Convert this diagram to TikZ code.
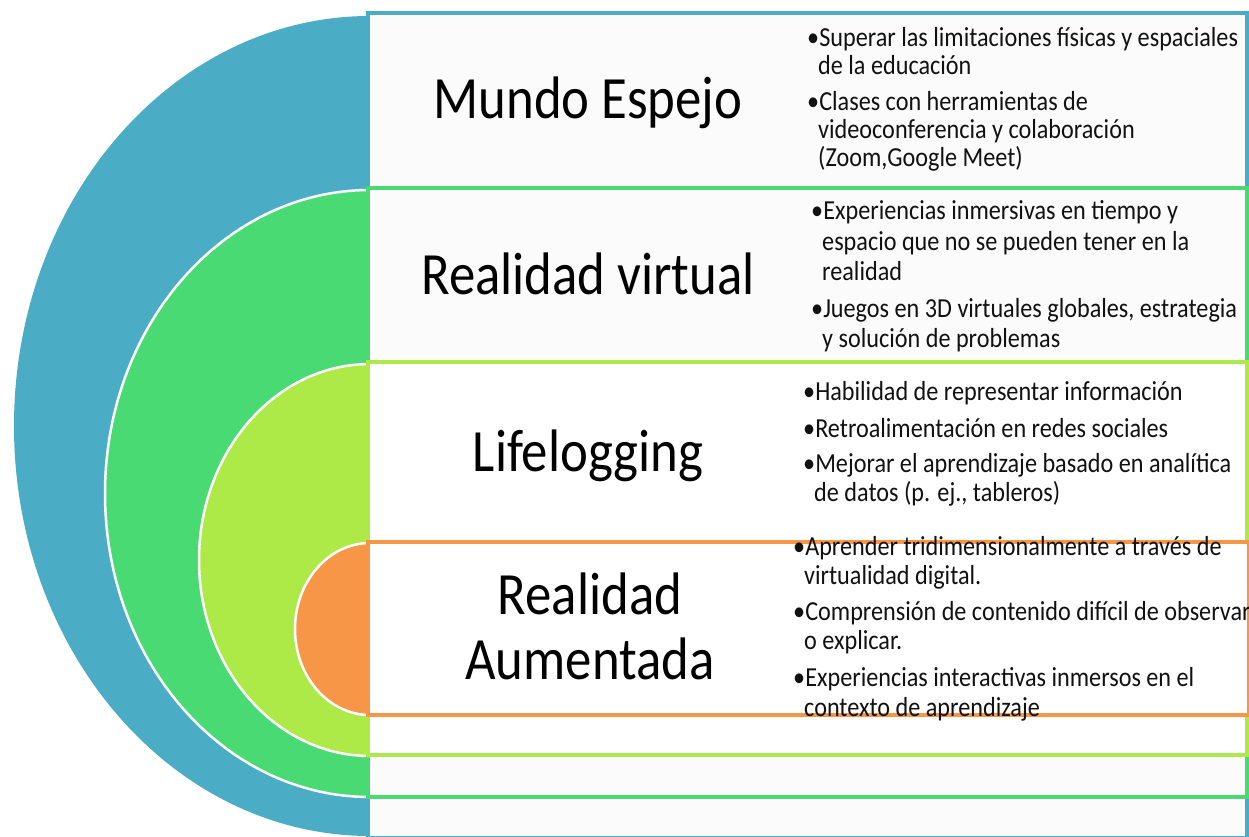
\documentclass[tikz,border=0pt]{standalone}
\usepackage{fontspec}
\setmainfont{Carlito}[FakeStretch=0.88]
\newfontfamily\calfont{Carlito}[FakeStretch=0.88]
\definecolor{cblue}{HTML}{4BACC6}
\definecolor{cgreen}{HTML}{4ADA74}
\definecolor{clgreen}{HTML}{ADEA47}
\definecolor{corange}{HTML}{F79646}
\definecolor{boxfill}{HTML}{FBFBFB}
\definecolor{txt}{HTML}{111111}
\begin{document}
\begin{tikzpicture}[x=1pt,y=-1pt,
  band/.style={line width=4pt, draw=#1, fill=boxfill},
  rim/.style={white, line width=2.5pt},
  title/.style={anchor=base, inner sep=0pt, text=black, font=\calfont\fontsize{60}{65}\selectfont},
  bl/.style={anchor=base west, inner sep=0pt, text=txt, font=\calfont\fontsize{27.5}{30}\selectfont}]
\useasboundingbox (0,0) rectangle (1249,837);
\clip (0,0) rectangle (1249,837);
\fill[white] (0,0) rectangle (1249,837);
% blue level
\fill[cblue] (370,16) arc[start angle=270,end angle=90,x radius=356,y radius=410] -- cycle;
\draw[band=cblue] (368,13) rectangle (1247,838);
% green level
\fill[cgreen] (370,190) arc[start angle=270,end angle=90,x radius=265,y radius=303.5] -- cycle;
\draw[rim] (370,190) arc[start angle=270,end angle=90,x radius=265,y radius=303.5];
\draw[band=cgreen] (368,188) rectangle (1247,797);
% light green level
\fill[clgreen] (370,364) arc[start angle=270,end angle=90,x radius=171,y radius=196] -- cycle;
\draw[rim] (370,364) arc[start angle=270,end angle=90,x radius=171,y radius=196];
\draw[band=clgreen, fill=white] (368,362) rectangle (1247,755);
% orange level
\fill[corange] (370,543) arc[start angle=270,end angle=90,x radius=75,y radius=86] -- cycle;
\draw[rim] (370,543) arc[start angle=270,end angle=90,x radius=75,y radius=86];
\draw[band=corange, fill=white] (368,542) rectangle (1249,715);
% titles
\node[title] (t1) at (588,119) {Mundo Espejo};
\node[title] (t2) at (588,294) {Realidad virtual};
\node[title] (t3) at (588,471) {Lifelogging};
\node[title] (t4a) at (590,614) {Realidad};
\node[title] (t4b) at (590,679) {Aumentada};
% block 1
\node[bl] (b11) at (807,47) {•Superar las limitaciones físicas y espaciales};
\node[bl] (b12) at (818,75) {de la educación};
\node[bl] (b13) at (807,111) {•Clases con herramientas de};
\node[bl] (b14) at (818,139) {videoconferencia y colaboración};
\node[bl] (b15) at (818,167) {(Zoom,Google Meet)};
% block 2
\node[bl] (b21) at (811,219) {•Experiencias inmersivas en tiempo y};
\node[bl] (b22) at (822,250) {espacio que no se pueden tener en la};
\node[bl] (b23) at (822,280) {realidad};
\node[bl] (b24) at (811,317) {•Juegos en 3D virtuales globales, estrategia};
\node[bl] (b25) at (822,347) {y solución de problemas};
% block 3
\node[bl] (b31) at (803,400) {•Habilidad de representar información};
\node[bl] (b32) at (803,437) {•Retroalimentación en redes sociales};
\node[bl] (b33) at (803,472) {•Mejorar el aprendizaje basado en analítica};
\node[bl] (b34) at (814,501) {de datos (p. ej., tableros)};
% block 4
\node[bl] (b41) at (793,555) {•Aprender tridimensionalmente a través de};
\node[bl] (b42) at (804,584) {virtualidad digital.};
\node[bl] (b43) at (793,620) {•Comprensión de contenido difícil de observar};
\node[bl] (b44) at (804,649) {o explicar.};
\node[bl] (b45) at (793,686) {•Experiencias interactivas inmersos en el};
\node[bl] (b46) at (804,716) {contexto de aprendizaje};
\end{tikzpicture}
\end{document}
